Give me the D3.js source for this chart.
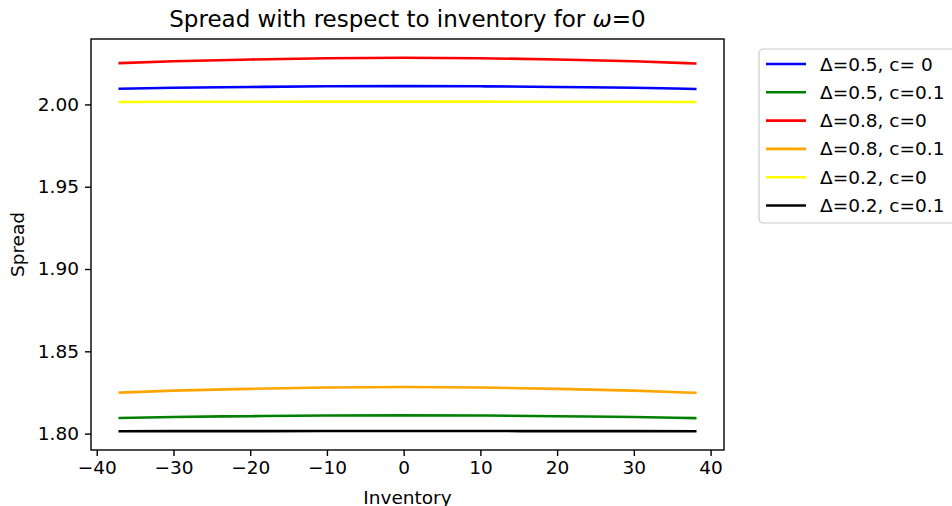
<!DOCTYPE html>
<html>
<head>
<meta charset="utf-8">
<script src="https://cdn.jsdelivr.net/npm/d3@7"></script>
<style>
  html, body { margin: 0; padding: 0; background: #fff; }
  svg { display: block; font-family: "DejaVu Sans", sans-serif; }
</style>
</head>
<body>
<svg id="chart" width="952" height="506"></svg>
<script>
// ---- data ----
const inventory = [-37, -30, -20, -10, 0, 10, 20, 30, 38];
const spreadD05c0  = [2.0095, 2.0101, 2.0106, 2.0110, 2.0111, 2.0110, 2.0106, 2.0101, 2.0094];
const spreadD05c01 = [1.8095, 1.8101, 1.8106, 1.8110, 1.8111, 1.8110, 1.8106, 1.8101, 1.8094];
const spreadD08c0  = [2.0251, 2.0262, 2.0273, 2.0281, 2.0284, 2.0281, 2.0273, 2.0262, 2.0249];
const spreadD08c01 = [1.8249, 1.8261, 1.8272, 1.8280, 1.8283, 1.8280, 1.8272, 1.8261, 1.8248];
const spreadD02c0  = [2.0015, 2.0016, 2.0016, 2.0017, 2.0017, 2.0017, 2.0016, 2.0016, 2.0015];
const spreadD02c01 = [1.8014, 1.8015, 1.8015, 1.8016, 1.8016, 1.8016, 1.8015, 1.8015, 1.8014];
const seriesLabels = ["Δ=0.5, c= 0", "Δ=0.5, c=0.1", "Δ=0.8, c=0", "Δ=0.8, c=0.1", "Δ=0.2, c=0", "Δ=0.2, c=0.1"];
const seriesColors = ["blue", "green", "red", "orange", "yellow", "black"];
const xTicks = [-40, -30, -20, -10, 0, 10, 20, 30, 40];
const yTicks = [1.80, 1.85, 1.90, 1.95, 2.00];
const titleText = "Spread with respect to inventory for ";
const titleMath = "ω";
const titleTail = "=0";
const xLabel = "Inventory";
const yLabel = "Spread";

const seriesValues = [spreadD05c0, spreadD05c01, spreadD08c0, spreadD08c01, spreadD02c0, spreadD02c01];

// ---- layout ----
const plot = { left: 91, right: 724, top: 39, bottom: 450 };
const svg = d3.select("#chart");
const FS = "18.5px";

const xMin = d3.min(inventory), xMax = d3.max(inventory);
const xPad = (xMax - xMin) * 0.05;
const allY = seriesValues.flat();
const yMin = d3.min(allY), yMax = d3.max(allY);
const yPad = (yMax - yMin) * 0.05;

const x = d3.scaleLinear().domain([xMin - xPad, xMax + xPad]).range([plot.left, plot.right]);
const y = d3.scaleLinear().domain([yMin - yPad, yMax + yPad]).range([plot.bottom, plot.top]);

// lines
const line = d3.line()
  .x(d => x(d[0]))
  .y(d => y(d[1]))
  .curve(d3.curveMonotoneX);

const gLines = svg.append("g");
seriesValues.forEach((vals, i) => {
  gLines.append("path")
    .datum(inventory.map((q, j) => [q, vals[j]]))
    .attr("d", line)
    .attr("fill", "none")
    .attr("stroke", seriesColors[i])
    .attr("stroke-width", 2.6)
    .attr("stroke-linecap", "square");
});

// axes
const xAxis = d3.axisBottom(x).tickValues(xTicks).tickFormat(d3.format("d")).tickSize(6).tickPadding(5);
const yAxis = d3.axisLeft(y).tickValues(yTicks).tickFormat(d3.format(".2f")).tickSize(6).tickPadding(6);

const gx = svg.append("g").attr("transform", `translate(0,${plot.bottom})`).call(xAxis);
const gy = svg.append("g").attr("transform", `translate(${plot.left},0)`).call(yAxis);
[gx, gy].forEach(g => {
  g.select(".domain").remove();
  g.selectAll(".tick line").attr("stroke", "#000").attr("stroke-width", 1.4);
  g.selectAll(".tick text").attr("fill", "#000").style("font-size", FS).style("font-family", "DejaVu Sans");
});

// frame
svg.append("rect")
  .attr("x", plot.left).attr("y", plot.top)
  .attr("width", plot.right - plot.left).attr("height", plot.bottom - plot.top)
  .attr("fill", "none").attr("stroke", "#000").attr("stroke-width", 1.4);

// title
const title = svg.append("text")
  .attr("x", (plot.left + plot.right) / 2).attr("y", 27)
  .attr("text-anchor", "middle")
  .style("font-size", "23px");
title.append("tspan").text(titleText);
title.append("tspan").style("font-style", "italic").text(titleMath);
title.append("tspan").text(titleTail);

// axis labels
svg.append("text")
  .attr("x", (plot.left + plot.right) / 2).attr("y", 503.5)
  .attr("text-anchor", "middle").style("font-size", FS)
  .text(xLabel);
svg.append("text")
  .attr("transform", `translate(24,${(plot.top + plot.bottom) / 2}) rotate(-90)`)
  .attr("text-anchor", "middle").style("font-size", FS)
  .text(yLabel);

// legend
const leg = svg.append("g").attr("transform", "translate(759,49)");
leg.append("rect")
  .attr("x", 0).attr("y", 0).attr("width", 210).attr("height", 174)
  .attr("rx", 4).attr("ry", 4)
  .attr("fill", "#fff").attr("fill-opacity", 0.8)
  .attr("stroke", "#cccccc").attr("stroke-width", 1.2);
seriesLabels.forEach((lab, i) => {
  const cy = 15 + i * 28.3;
  leg.append("line")
    .attr("x1", 7).attr("x2", 47).attr("y1", cy).attr("y2", cy)
    .attr("stroke", seriesColors[i]).attr("stroke-width", 2.6);
  leg.append("text")
    .attr("x", 61).attr("y", cy + 6.5)
    .style("font-size", FS)
    .text(lab);
});
</script>
</body>
</html>
